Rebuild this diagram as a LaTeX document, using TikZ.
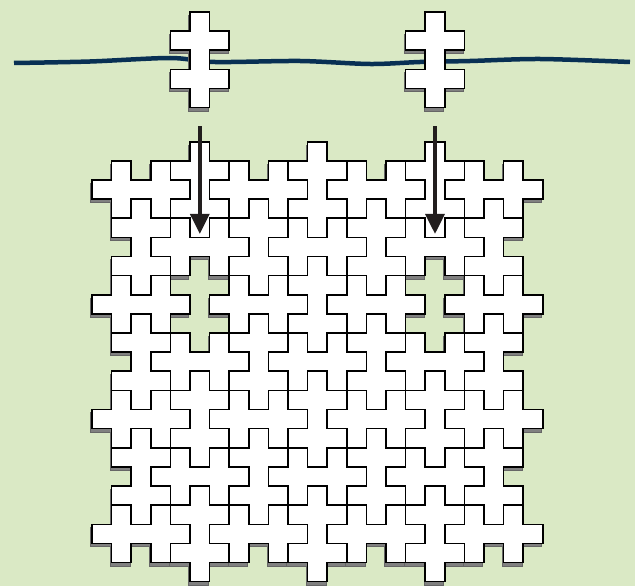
\documentclass[tikz,border=0pt]{standalone}
\usetikzlibrary{arrows.meta}
\definecolor{bggreen}{RGB}{218,233,197}
\definecolor{ropeblue}{RGB}{8,48,84}
\definecolor{arrowdark}{RGB}{34,30,30}
\begin{document}
\begin{tikzpicture}[
  x=1pt, y=-1pt,
  tile/.style={fill=white, draw=black, line width=1.6pt},
  tileshadow/.style={fill=black!50, draw=black!60, line width=1pt, shift={(-0.06,0.18)}},
  rope/.style={draw=ropeblue, line width=4.5pt},
  arrow/.style={-{Triangle[length=20pt, width=19pt]}, draw=arrowdark, line width=3.4pt},
  vcross/.pic={\path[pic actions] (0,0) -- (1,0) -- (1,1) -- (2,1) -- (2,2) -- (1,2) -- (1,3) -- (2,3) -- (2,4) -- (1,4) -- (1,5) -- (0,5) -- (0,4) -- (-1,4) -- (-1,3) -- (0,3) -- (0,2) -- (-1,2) -- (-1,1) -- (0,1) -- cycle;},
  hcross/.pic={\path[pic actions] (0,0) -- (1,0) -- (1,-1) -- (2,-1) -- (2,0) -- (3,0) -- (3,-1) -- (4,-1) -- (4,0) -- (5,0) -- (5,1) -- (4,1) -- (4,2) -- (3,2) -- (3,1) -- (2,1) -- (2,2) -- (1,2) -- (1,1) -- (0,1) -- cycle;}
]
\fill[bggreen] (0,0) rectangle (635,586);
\useasboundingbox (0,0) rectangle (635,586);

% the line the two loose pieces hang on
\draw[rope] plot[smooth] coordinates {(14,63) (90,61.5) (170,58) (215,62) (300,61) (370,64) (420,62) (470,61) (540,59) (630,62)};

\begin{scope}[shift={(92,141.7)}, x=19.6pt, y=-19.13pt]
  % loose pieces
  \foreach \c in {5,17} \pic[tileshadow] at (\c,-6.78) {vcross};
  \foreach \c in {5,17} \pic[tile] at (\c,-6.78) {vcross};

  % shadows of the tiling
  \foreach \r in {0,12,18} \foreach \c in {5,11,17} \pic[tileshadow] at (\c,\r) {vcross};
  \foreach \r in {3,9,15} \foreach \c in {2,8,14,20} \pic[tileshadow] at (\c,\r) {vcross};
  \pic[tileshadow] at (11,6) {vcross};
  \foreach \r in {2,8,14,20} \foreach \c in {0,6,12,18} \pic[tileshadow] at (\c,\r) {hcross};
  \foreach \r in {5,11,17} \foreach \c in {3,9,15} \pic[tileshadow] at (\c,\r) {hcross};

  % the tiling, two vertical slots left open
  \foreach \r in {0,12,18} \foreach \c in {5,11,17} \pic[tile] at (\c,\r) {vcross};
  \foreach \r in {3,9,15} \foreach \c in {2,8,14,20} \pic[tile] at (\c,\r) {vcross};
  \pic[tile] at (11,6) {vcross};
  \foreach \r in {2,8,14,20} \foreach \c in {0,6,12,18} \pic[tile] at (\c,\r) {hcross};
  \foreach \r in {5,11,17} \foreach \c in {3,9,15} \pic[tile] at (\c,\r) {hcross};

  \coordinate (dropA) at (5.5,-0.82);
  \coordinate (slotA) at (5.5,4.82);
  \coordinate (dropB) at (17.5,-0.82);
  \coordinate (slotB) at (17.5,4.82);
  \draw[arrow] (dropA) -- (slotA);
  \draw[arrow] (dropB) -- (slotB);
\end{scope}
\end{tikzpicture}
\end{document}
